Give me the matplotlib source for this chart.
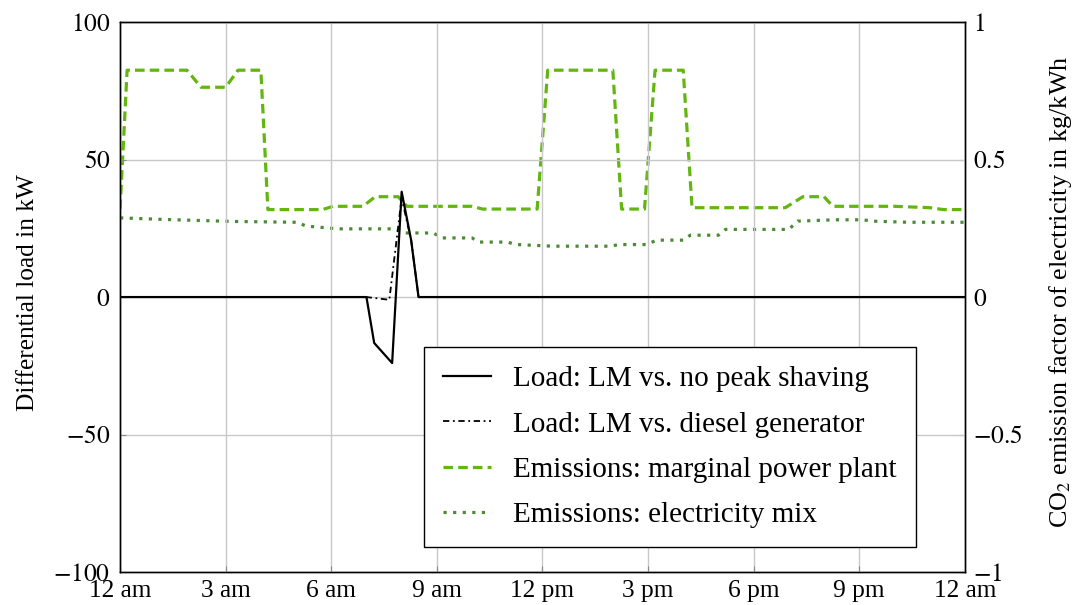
import matplotlib
matplotlib.use("Agg")
import matplotlib.pyplot as plt

plt.rcParams['font.family'] = ['Liberation Serif', 'DejaVu Serif']
plt.rcParams['mathtext.fontset'] = 'stix'
plt.rcParams['font.size'] = 18.3

# Data (hours of day)
hour_ticks = [0, 3, 6, 9, 12, 15, 18, 21, 24]
hour_labels = ["12 am", "3 am", "6 am", "9 am", "12 pm", "3 pm", "6 pm", "9 pm", "12 am"]

load_nops_t = [0, 7.0, 7.22, 7.73, 8.0, 8.27, 8.48, 24]
load_nops_v = [0, 0, -16.7, -24.0, 38.3, 20.7, 0, 0]

load_diesel_t = [0, 7.0, 7.65, 8.0, 8.27, 8.48, 24]
load_diesel_v = [0, 0, -1.0, 36.0, 20.7, 0, 0]

marg_t = [0, 0.2, 1.9, 2.3, 3.0, 3.35, 4.0, 4.2, 5.75, 6.05, 6.9, 7.25, 7.9, 8.15,
          10.0, 10.3, 11.85, 12.15, 14.0, 14.25, 14.9, 15.2, 16.0, 16.25, 18.9, 19.4,
          20.0, 20.25, 22.0, 23.0, 23.4, 24]
marg_v = [0.32, 0.825, 0.825, 0.763, 0.763, 0.825, 0.825, 0.318, 0.318, 0.33, 0.33,
          0.365, 0.365, 0.33, 0.33, 0.32, 0.32, 0.825, 0.825, 0.32, 0.32, 0.825, 0.825,
          0.325, 0.325, 0.365, 0.365, 0.33, 0.33, 0.325, 0.318, 0.318]

mix_t = [0, 1.3, 3.2, 5.0, 5.3, 6.2, 7.85, 8.1, 8.9, 9.15, 10.0, 10.2, 11.0, 11.25,
         12.3, 13.9, 14.2, 14.95, 15.25, 16.0, 16.2, 17.0, 17.2, 19.0, 19.25, 20.3,
         21.1, 21.4, 22.4, 24]
mix_v = [0.288, 0.282, 0.275, 0.272, 0.258, 0.248, 0.248, 0.233, 0.233, 0.215, 0.215,
         0.2, 0.2, 0.191, 0.185, 0.185, 0.191, 0.191, 0.207, 0.207, 0.225, 0.225,
         0.246, 0.246, 0.276, 0.281, 0.281, 0.276, 0.272, 0.272]

fig = plt.figure(figsize=(10.72, 6.05), dpi=100)
ax = fig.add_axes([0.112, 0.0545, 0.788, 0.909])
ax2 = ax.twinx()

grid_c = '#c8c8c8'
ax.set_xlim(0, 24)
ax.set_ylim(-100, 100)
ax2.set_ylim(-1, 1)
ax.set_xticks(hour_ticks)
ax.set_xticklabels(hour_labels)
ax.set_yticks([-100, -50, 0, 50, 100])
ax2.set_yticks([-1, -0.5, 0, 0.5, 1])
ax2.set_yticklabels(["$-1$", "$-0.5$", "$0$", "$0.5$", "$1$"])
ax.set_yticklabels(["$-100$", "$-50$", "$0$", "$50$", "$100$"])
ax.grid(True, color=grid_c, linewidth=1.0)
ax.set_axisbelow(True)
ax.tick_params(axis='y', direction='in', length=4, color='#888888', pad=7)
ax2.tick_params(axis='y', direction='in', length=4, color='#888888', pad=6)
ax.tick_params(axis='x', direction='in', length=4, color='#888888', pad=6)

l1, = ax.plot(load_nops_t, load_nops_v, color='black', lw=1.6,
              label='Load: LM vs. no peak shaving', zorder=5)
l2, = ax.plot(load_diesel_t, load_diesel_v, color='black', lw=1.3,
              linestyle=(0, (3.5, 2, 1, 2)), label='Load: LM vs. diesel generator', zorder=5)
l3, = ax2.plot(marg_t, marg_v, color='#62b60f', lw=2.3,
               dashes=(3, 1.6), label='Emissions: marginal power plant')
l4, = ax2.plot(mix_t, mix_v, color='#4c8a36', lw=2.3,
               dashes=(1, 2), label='Emissions: electricity mix')
ax.set_zorder(ax2.get_zorder() + 1)
ax.patch.set_visible(False)

ax.set_ylabel("Differential load in kW", fontsize=18.3)
ax.yaxis.set_label_coords(-0.096, 0.509)
ax2.set_ylabel("CO$_2$ emission factor of electricity in kg/kWh", fontsize=18.8)
ax2.yaxis.set_label_coords(1.097, 0.509)

for a in (ax, ax2):
    for s in a.spines.values():
        s.set_linewidth(1.0)
        s.set_color('black')

leg = ax.legend(handles=[l1, l2, l3, l4], loc='lower right',
                bbox_to_anchor=(0.942, 0.045), borderaxespad=0, fancybox=False,
                framealpha=1, edgecolor='black', fontsize=21, handlelength=1.65,
                borderpad=0.65, labelspacing=0.65, handletextpad=0.75)
leg.get_frame().set_linewidth(1.0)

fig.savefig("out.png", dpi=100)
